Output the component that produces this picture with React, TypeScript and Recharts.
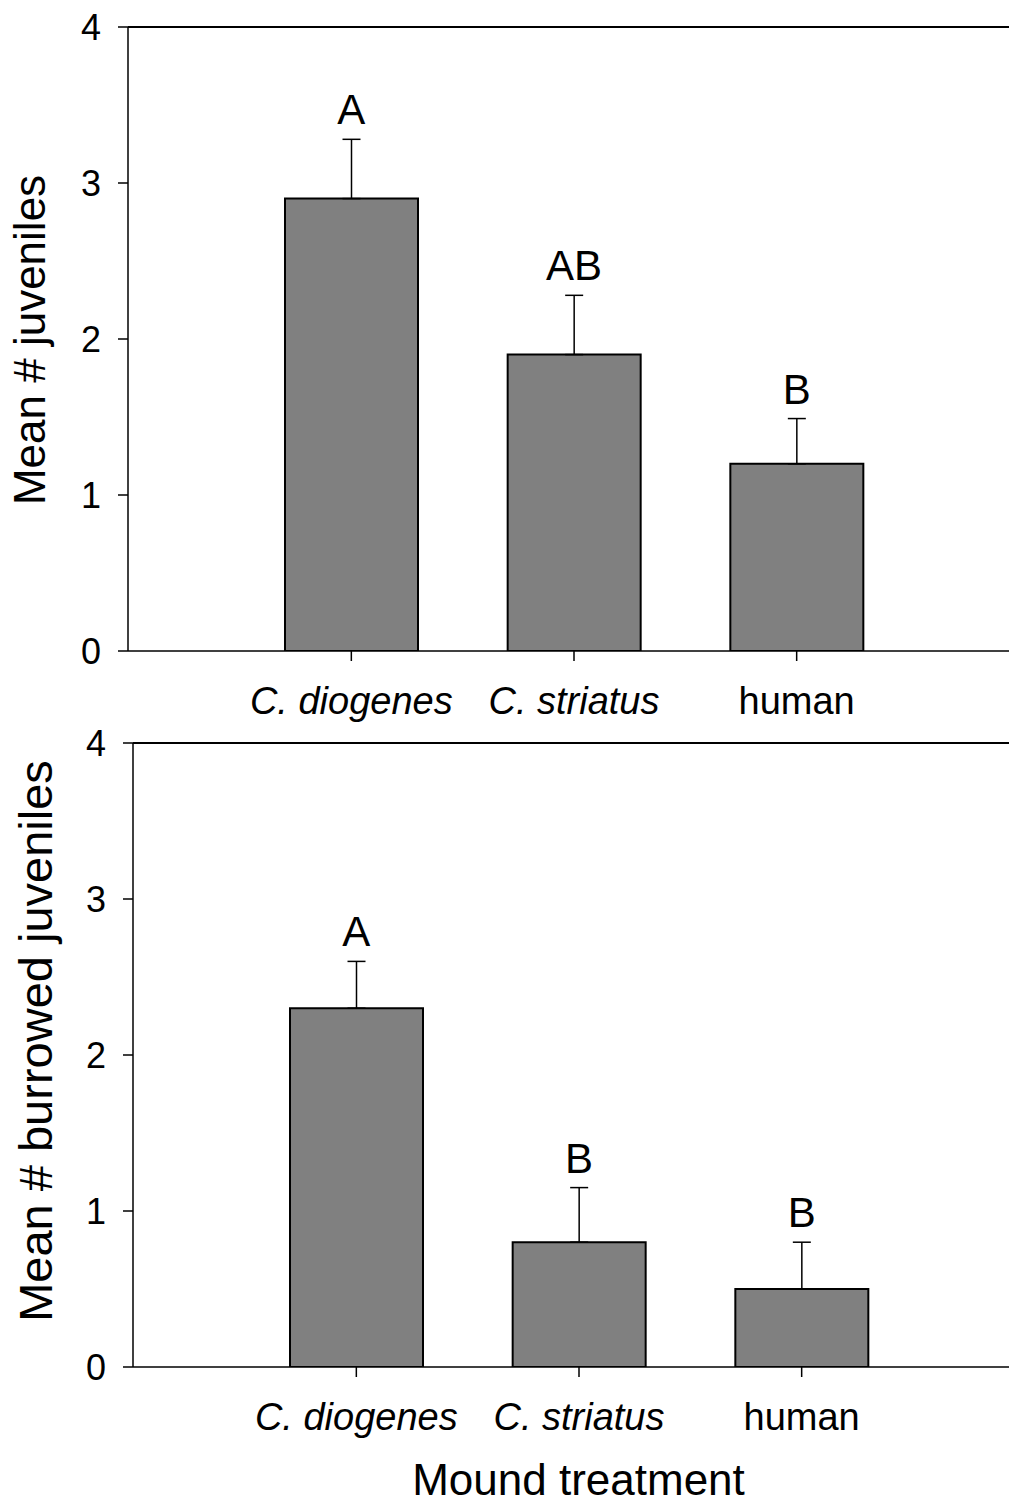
import React from 'react';
import { BarChart, Bar, XAxis, YAxis, ErrorBar, ReferenceLine, ReferenceDot } from 'recharts';

const categories = ['C. diogenes', 'C. striatus', 'human'];
const italicCats = ['C. diogenes', 'C. striatus'];
const yTicks = [0, 1, 2, 3, 4];

const juvMeans = [2.9, 1.9, 1.2];
const juvSE = [0.38, 0.38, 0.29];
const juvLetters = ['A', 'AB', 'B'];

const burMeans = [2.3, 0.8, 0.5];
const burSE = [0.3, 0.35, 0.3];
const burLetters = ['A', 'B', 'B'];

const FONT = '"Liberation Sans", Arial, sans-serif';

const juvData = categories.map((name, i) => ({
  name,
  mean: juvMeans[i],
  err: [0, juvSE[i]],
  top: juvMeans[i] + juvSE[i],
  letter: juvLetters[i],
}));

const burData = categories.map((name, i) => ({
  name,
  mean: burMeans[i],
  err: [0, burSE[i]],
  top: burMeans[i] + burSE[i],
  letter: burLetters[i],
}));

const CatTick = (props: any) => {
  const { x, y, payload } = props;
  const italic = italicCats.includes(payload.value);
  return (
    <text
      x={x}
      y={y}
      dy={51}
      textAnchor="middle"
      fontSize={38}
      fontStyle={italic ? 'italic' : 'normal'}
      fontFamily={FONT}
      fill="#000"
    >
      {payload.value}
    </text>
  );
};

const NumTick = (props: any) => {
  const { x, y, payload } = props;
  return (
    <text x={x} y={y} dy={13} textAnchor="end" fontSize={36} fontFamily={FONT} fill="#000">
      {payload.value}
    </text>
  );
};

const YTitle = (text: string, size: number, bx: number, dyc: number) => (props: any) => {
  const vb = props.viewBox || {};
  const cx = bx;
  const cy = vb.y + vb.height / 2 + dyc;
  return (
    <text
      x={cx}
      y={cy}
      transform={`rotate(-90 ${cx} ${cy})`}
      textAnchor="middle"
      fontSize={size}
      fontFamily={FONT}
      fill="#000"
    >
      {text}
    </text>
  );
};

type PanelProps = {
  data: any[];
  yLabel: string;
  yLabelSize: number;
  yLabelX: number;
  yLabelDy: number;
  xLabel?: string;
  height: number;
  xAxisHeight: number;
};

const Panel = ({ data, yLabel, yLabelSize, yLabelX, yLabelDy, xLabel, height, xAxisHeight }: PanelProps) => (
  <BarChart
    width={1040}
    height={height}
    data={data}
    margin={{ top: 27, right: 21, left: 0, bottom: 0 }}
    style={{ fontFamily: FONT }}
  >
    <XAxis
      dataKey="name"
      type="category"
      interval={0}
      height={xAxisHeight}
      padding={{ left: 112, right: 111 }}
      tickSize={10}
      axisLine={{ stroke: '#000', strokeWidth: 1.5 }}
      tickLine={{ stroke: '#000', strokeWidth: 1.5 }}
      tick={<CatTick />}
      label={
        xLabel
          ? {
              value: xLabel,
              position: 'insideBottom',
              offset: 8,
              fontSize: 44,
              fill: '#000',
              fontFamily: FONT,
            }
          : undefined
      }
    />
    <YAxis
      type="number"
      domain={[0, 4]}
      ticks={yTicks}
      allowDataOverflow
      width={128}
      tickSize={10}
      tickMargin={17}
      axisLine={{ stroke: '#000', strokeWidth: 1.5 }}
      tickLine={{ stroke: '#000', strokeWidth: 1.5 }}
      tick={<NumTick />}
      label={{ content: YTitle(yLabel, yLabelSize, yLabelX, yLabelDy) }}
    />
    <ReferenceLine y={4} stroke="#000" strokeWidth={2} ifOverflow="visible" />
    <Bar
      dataKey="mean"
      barSize={133}
      fill="#808080"
      stroke="#000"
      strokeWidth={2}
      isAnimationActive={false}
    >
      <ErrorBar dataKey="err" direction="y" width={9} stroke="#000" strokeWidth={1.5} />
    </Bar>
    {data.map((d) => (
      <ReferenceDot
        key={d.name}
        x={d.name}
        y={d.top}
        r={0}
        fill="none"
        stroke="none"
        ifOverflow="visible"
        label={{
          value: d.letter,
          position: 'top',
          offset: 15,
          fontSize: 42,
          fill: '#000',
          fontFamily: FONT,
        }}
      />
    ))}
  </BarChart>
);

export default function App() {
  return (
    <div
      style={{
        position: 'absolute',
        left: 0,
        top: 0,
        width: 1009,
        height: 1503,
        overflow: 'hidden',
        background: '#fff',
      }}
    >
      <div style={{ position: 'absolute', left: 0, top: 0 }}>
        <Panel
          data={juvData}
          yLabel="Mean # juveniles"
          yLabelSize={44}
          yLabelX={45}
          yLabelDy={1}
          height={740}
          xAxisHeight={89}
        />
      </div>
      <div style={{ position: 'absolute', left: 5, top: 716 }}>
        <Panel
          data={burData}
          yLabel="Mean # burrowed juveniles"
          yLabelSize={47}
          yLabelX={47}
          yLabelDy={-14}
          xLabel="Mound treatment"
          height={787}
          xAxisHeight={136}
        />
      </div>
    </div>
  );
}
